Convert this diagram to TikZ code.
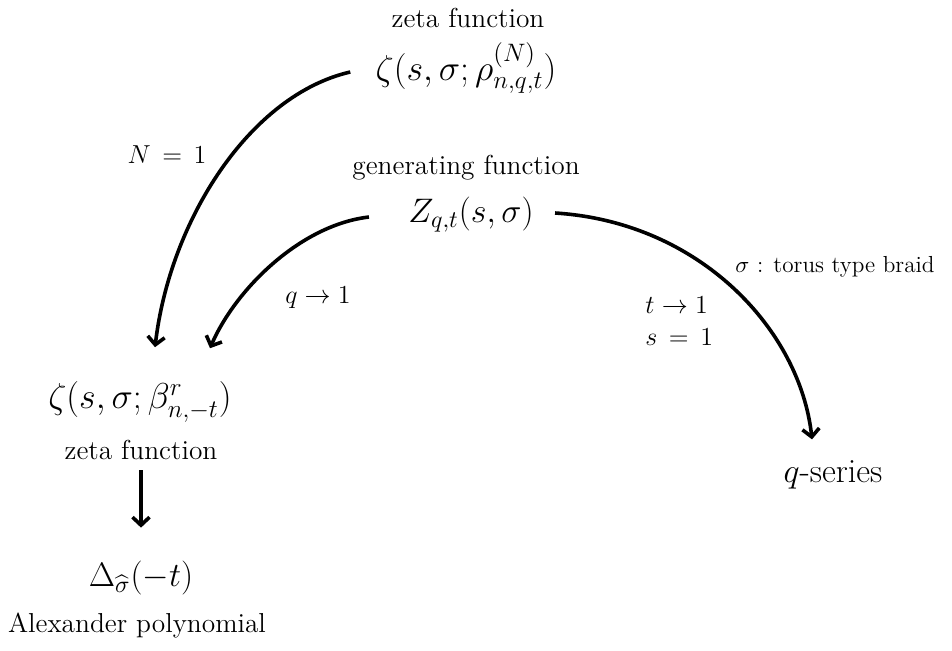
\RequirePackage{fix-cm}
\documentclass[tikz,border=0pt]{standalone}
\usepackage{amsmath}
\usetikzlibrary{arrows.meta,calc}
\begin{document}
\begin{tikzpicture}[x=0.5pt,y=-0.5pt,
  txt/.style={inner sep=0pt,font=\fontsize{13.7}{16}\selectfont},
  mth/.style={inner sep=0pt,font=\fontsize{17}{20}\selectfont},
  bigmth/.style={inner sep=0pt,font=\fontsize{18}{21}\selectfont},
  lbl/.style={inner sep=0pt,font=\fontsize{13}{15}\selectfont},
  smalllbl/.style={inner sep=0pt,font=\fontsize{11.6}{14}\selectfont},
  arr/.style={line width=1.8pt,-{Straight Barb[length=4pt,width=8.5pt]}}]
\useasboundingbox (0,0) rectangle (952,650);
% nodes
\node[txt] (ztl) at (468,18) {zeta function};
\node[bigmth] (zt) at (466,68) {$\zeta(s,\sigma;\rho^{(N)}_{n,q,t})$};
\node[txt] (gfl) at (466,168) {generating function};
\node[mth] (Z) at (471,215) {$Z_{q,t}(s,\sigma)$};
\node[bigmth] (zb) at (140,402) {$\zeta(s,\sigma;\beta^{r}_{n,-t})$};
\node[txt] (zbl) at (141,450) {zeta function};
\node[mth] (dl) at (141,578) {$\Delta_{\widehat{\sigma}}(-t)$};
\node[txt] (dll) at (137,625) {Alexander polynomial};
\node[mth] (qs) at (833,475) {$q$-series};
% labels
\node[lbl] (l1) at (167,155) {$N\,=\,1$};
\node[lbl] (l2) at (318,298) {$q\to1$};
\node[smalllbl] (l3) at (835,267) {$\sigma$ : torus type braid};
\node[lbl,anchor=west] (l4) at (645,305) {$t\to1$};
\node[lbl,anchor=west] (l5) at (645,337) {$s\,=\,1$};
% connectors
\draw[arr] ($(zt.west)+(-25,4)$) .. controls (250,95) and (170,220) .. ($(zb.north)+(15,-34)$);
\draw[arr] ($(Z.west)+(-39,2)$) .. controls (300,225) and (235,290) .. ($(zb.north)+(70,-33)$);
\draw[arr] ($(Z.east)+(21,-2)$) .. controls (700,222) and (800,330) .. ($(qs.north)+(-21,-21)$);
\draw[arr] ($(zbl.south)+(0,10)$) -- ($(dl.north)+(0,-33)$);
\end{tikzpicture}
\end{document}
